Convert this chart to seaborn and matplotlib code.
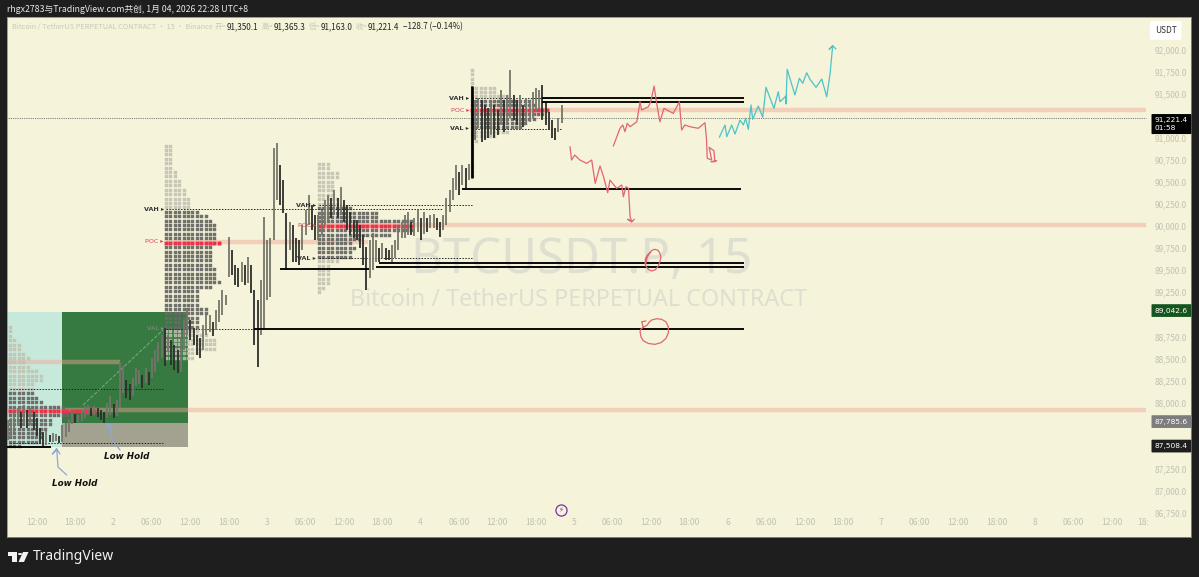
import matplotlib
matplotlib.use("Agg")
import matplotlib.pyplot as plt
from matplotlib.patches import Polygon, Circle
import seaborn as sns

# candles, 30 min apart, from 07:30 on the 1st
candle_start = 7.55
candle_step = 0.5
highs = [87804, 87826, 87894, 87939, 87894, 87973, 87917, 87939, 87894, 87826, 87713, 87668, 87690, 87634, 87656, 87645, 87622, 87747, 87770, 87815, 87894, 87871, 87860, 87917, 87962, 87973, 87939, 87962, 87939, 87917, 87894, 87996, 88075, 87985, 88030, 88460, 88415, 88256, 88211, 88279, 88392, 88370, 88313, 88392, 88347, 88505, 88596, 88687, 88766, 88845, 88766, 88709, 88653, 88596, 88732, 88936, 89071, 88936, 88845, 88766, 88732, 88879, 89026, 88992, 88913, 89049, 89162, 89275, 89219, 89875, 89728, 89558, 89524, 89592, 89558, 89649, 89558, 89275, 89162, 89388, 90102, 89841, 89864, 90883, 90939, 90690, 90520, 90147, 90045, 90011, 89864, 89841, 90011, 90181, 90351, 90237, 90124, 90124, 90181, 90294, 90351, 90317, 90407, 90317, 90441, 90294, 90237, 90158, 90068, 90068, 90011, 89898, 89762, 89841, 89920, 89841, 89751, 89807, 89751, 89728, 89785, 89841, 90011, 90045, 90124, 90158, 90045, 90090, 90181, 90090, 90158, 90090, 90124, 90136, 90090, 90045, 90124, 90317, 90407, 90543, 90690, 90611, 90690, 90656, 90702, 91584, 91426, 91449, 91426, 91369, 91335, 91426, 91369, 91313, 91539, 91426, 91483, 91766, 91483, 91426, 91483, 91369, 91449, 91426, 91517, 91562, 91539, 91596, 91403, 91290, 91200, 91109, 91222, 91369]
lows = [87577, 87611, 87668, 87736, 87713, 87758, 87713, 87747, 87690, 87622, 87532, 87498, 87521, 87555, 87555, 87566, 87543, 87555, 87611, 87668, 87758, 87770, 87781, 87792, 87826, 87860, 87849, 87860, 87838, 87804, 87770, 87826, 87860, 87826, 87849, 87939, 88109, 88053, 88030, 88075, 88188, 88211, 88166, 88222, 88200, 88279, 88347, 88460, 88505, 88415, 88573, 88426, 88370, 88336, 88347, 88596, 88766, 88709, 88653, 88539, 88505, 88596, 88766, 88800, 88755, 88822, 88913, 88992, 89105, 89422, 89445, 89332, 89309, 89366, 89332, 89354, 89241, 88653, 88403, 88766, 88822, 89162, 89196, 89841, 90294, 90237, 90147, 89502, 89728, 89592, 89592, 89558, 89728, 89898, 90011, 89954, 89841, 89841, 89898, 90011, 90068, 90090, 90124, 90090, 90124, 90045, 89954, 89898, 89864, 89841, 89751, 89558, 89275, 89411, 89502, 89592, 89592, 89637, 89615, 89615, 89592, 89637, 89728, 89864, 89864, 89898, 89898, 89886, 89932, 89841, 89909, 89932, 89977, 89977, 89954, 89875, 89954, 90011, 90158, 90294, 90407, 90351, 90464, 90430, 90520, 90543, 90973, 91109, 90951, 90973, 90996, 91030, 90996, 91030, 91143, 91064, 91143, 91222, 91200, 91143, 91109, 91120, 91143, 91177, 91222, 91290, 91313, 91200, 91143, 91086, 90996, 90973, 91064, 91166]

# session profiles: start hour, top row price, cells per row, VA rows, POC row
profile_step_price = 50
profile_step_hours = 0.6875
profiles = [
    (7.86, 88856, [1, 1, 1, 2, 3, 3, 4, 5, 4, 5, 7, 8, 8, 6, 6, 6, 7, 8, 13, 20, 14, 10, 10, 9, 8, 8, 7, 3], 15, 27, 19),
    (32.23, 90911, [2, 2, 2, 2, 2, 2, 3, 3, 4, 4, 5, 5, 6, 6, 6, 8, 10, 11, 12, 12, 12, 12, 13, 11, 11, 11, 11, 11, 12, 12, 12, 13, 11, 8, 8, 8, 8, 10, 10, 8, 8, 8, 8, 10, 12, 12, 12, 8, 7], 15, 41, 22),
    (56.14, 90702, [3, 3, 5, 5, 4, 4, 4, 4, 5, 5, 8, 14, 14, 22, 22, 22, 17, 10, 8, 9, 8, 8, 5, 3, 3, 3, 3, 3, 2, 1], 10, 21, 14),
    (80.05, 91766, [1, 1, 1, 1, 6, 6, 9, 14, 15, 18, 17, 15, 13, 12, 9, 6, 2, 1, 1, 1, 1, 1, 1, 1, 1], 7, 13, 9),
]

# value levels of the profiles (price, from hour, to hour)
dotted_levels = [(88150, 7.9, 31.8), (87545, 7.9, 31.8), (90190, 32.2, 75.4), (88834, 32.2, 46.6),
                 (90237, 56.1, 80), (89637, 56.1, 80), (91445, 80, 94), (91100, 80, 94)]
level_tags = [("VAH", 90190, 31.9, "#333333"), ("POC", 89819, 31.9, "#e0405a"), ("VAL", 88834, 31.9, "#8c8c80"),
              ("VAH", 90237, 55.7, "#333333"), ("POC", 90011, 55.7, "#e0405a"), ("VAL", 89637, 55.7, "#333333"),
              ("VAH", 91445, 79.6, "#333333"), ("POC", 91313, 79.6, "#e0405a"), ("VAL", 91100, 79.6, "#333333")]

# hand drawn levels
pink_levels = [(91313, 90, 185.36), (90011, 56, 185.36), (89819, 32.2, 63.8), (88460, 7.4, 25), (87917, 7.4, 185.36)]
black_levels = [(91445, 91, 122.6), (91400, 91, 122.6), (90415, 78.5, 122), (89581, 65.5, 122.6),
                (89541, 65, 122.6), (89518, 50, 64), (88834, 46, 122.6), (87498, 7.4, 14.3)]

red_x = [95.36, 95.6, 96.1, 96.9, 97.95, 98.75, 99.3, 100.05, 100.6, 101.25, 101.6, 102.65, 103.45, 103.7, 104.1, 104.5, 104.75, 105.0, 104.4, 105.0, 105.4]
red_y = [90898, 90747, 90803, 90747, 90709, 90747, 90483, 90679, 90558, 90377, 90520, 90426, 90464, 90331, 90445, 90426, 90105, 90048, 90076, 90048, 90076]
red2_x = [102.13, 103.17, 103.6, 103.95, 104.3, 104.75, 105.8, 106.3, 106.55, 107.6, 107.97, 108.5, 108.9, 109.4, 110.05, 111.0, 111.5, 112.45, 112.8, 113.3, 114.1, 115.4, 116.45, 116.7, 116.8, 117.5, 117.1, 117.85, 118.0, 117.4, 118.3]
red2_y = [90905, 91106, 91143, 91067, 91162, 91124, 91180, 91407, 91313, 91350, 91407, 91584, 91389, 91180, 91332, 91294, 91275, 91407, 91086, 91143, 91124, 91106, 91169, 90973, 90766, 90747, 90890, 90852, 90728, 90728, 90739]
teal_x = [118.69, 119.58, 119.85, 120.62, 121.14, 121.92, 122.44, 122.81, 123.22, 123.64, 123.9, 124.78, 125.47, 125.98, 127.23, 127.9, 128.17, 129.1, 129.1, 129.3, 130.5, 131.2, 131.72, 132.34, 132.86, 133.8, 134.7, 135.47, 136.0, 136.4, 135.87, 136.4, 136.9]
teal_y = [91004, 91143, 91011, 91143, 91041, 91200, 91143, 91219, 91094, 91369, 91208, 91358, 91230, 91570, 91332, 91520, 91407, 91471, 91381, 91774, 91483, 91672, 91615, 91735, 91660, 91570, 91664, 91463, 91728, 92041, 92000, 92041, 92004]
small_circle_x = [107.23, 107.4, 107.75, 108.15, 108.64, 109.1, 109.42, 109.55, 109.42, 109.1, 108.64, 108.1, 107.6, 107.25, 107.08, 107.15, 107.44, 107.97]
small_circle_y = [89577, 89640, 89691, 89725, 89736, 89725, 89691, 89645, 89596, 89540, 89502, 89490, 89509, 89540, 89577, 89630, 89671, 89702]
big_circle_x = [106.81, 106.4, 106.3, 106.45, 106.81, 107.6, 108.64, 109.6, 110.36, 110.75, 110.72, 110.35, 109.69, 108.9, 108.13, 107.7, 107.44, 106.81, 106.56, 107.23]
big_circle_y = [88853, 88830, 88803, 88745, 88701, 88670, 88660, 88680, 88728, 88795, 88860, 88915, 88943, 88950, 88936, 88910, 88879, 88853, 88916, 88924]
hold1_x = [16.72, 15.36, 15.16, 14.5, 15.16, 15.67]
hold1_y = [87181, 87271, 87475, 87419, 87475, 87419]
hold2_x = [25.05, 23.8, 23.38, 22.86, 23.38, 23.95]
hold2_y = [87464, 87577, 87758, 87713, 87758, 87713]

x_ticks = list(range(12, 186, 6)) + [185]
x_labels = ["12:00", "18:00", "2", "06:00", "12:00", "18:00", "3", "06:00", "12:00", "18:00", "4", "06:00",
            "12:00", "18:00", "5", "06:00", "12:00", "18:00", "6", "06:00", "12:00", "18:00", "7", "06:00",
            "12:00", "18:00", "8", "06:00", "12:00", "18:"]
y_ticks = [92000, 91750, 91500, 91000, 90750, 90500, 90250, 90000, 89750, 89500, 89250, 88750, 88500, 88250,
           88000, 87250, 87000, 86750]

last_price = 91221.4
price_tags = [(91154, "91,221.4\n01:58", "#000000"), (89042.6, "89,042.6", "#15561f"),
              (87785.6, "87,785.6", "#7d7d7d"), (87508.4, "87,508.4", "#1e1e1e")]
legend_parts = [(12, "Bitcoin / TetherUS PERPETUAL CONTRACT · 15 · Binance", "#c9c9ba", 5.3), (215, "开=", "#c9c9ba", 5.3),
                (227, "91,350.1", "#222222", 5.8), (262, "高=", "#c9c9ba", 5.3), (274, "91,365.3", "#222222", 5.8),
                (309, "低=", "#c9c9ba", 5.3), (321, "91,163.0", "#222222", 5.8), (356, "收=", "#c9c9ba", 5.3),
                (368, "91,221.4", "#222222", 5.8), (403, "−128.7 (−0.14%)", "#222222", 5.8)]

BG = "#f5f3d9"
DARK = "#1e1e1e"
W, H = 1199, 577

sns.set_theme(style="white")
plt.rcParams["font.family"] = ["Noto Sans CJK SC", "DejaVu Sans"]
plt.rcParams["axes.unicode_minus"] = False

fig = plt.figure(figsize=(W / 100, H / 100), dpi=100, facecolor=DARK)
ax = fig.add_axes([7 / W, 40 / H, 1184 / W, 520 / H], facecolor=BG)
ax.set_xlim(7.39, 192.39)
ax.set_ylim(86479, 92366)

# watermark
ax.text(97.1, 89610, "BTCUSDT.P, 15", fontsize=35.4, color="#dedfd0", ha="center", va="center", zorder=0.5,
        family="Noto Sans")
ax.text(96.7, 89160, "Bitcoin / TetherUS PERPETUAL CONTRACT", fontsize=16.8, color="#dedfd0", ha="center",
        va="center", zorder=0.5, family="Noto Sans")

# long position box
ax.fill_between([7.4, 16], 87498, 89026, color="#c7e9dc", lw=0, zorder=1)
ax.fill_between([16, 35.67], 87770, 89026, color="#367a42", lw=0, zorder=1)
ax.fill_between([16, 35.67], 87498, 87770, color="#a3a190", lw=0, zorder=1)
ax.plot([19.27, 31.77], [87973, 88822], color="#7fa885", lw=0.7, ls="--", zorder=1.2)

for price, x0, x1 in pink_levels:
    ax.hlines(price, x0, x1, color="#f0a590", alpha=0.45, lw=3.2, zorder=1.5)

for start, top, counts, va_first, va_last, poc in profiles:
    groups = {"out": ([], []), "va": ([], []), "poc": ([], [])}
    for row, count in enumerate(counts):
        key = "poc" if row == poc else ("va" if va_first <= row <= va_last else "out")
        for cell in range(count):
            groups[key][0].append(start + cell * profile_step_hours)
            groups[key][1].append(top - row * profile_step_price)
    # snapping makes the small squares jump between dots and solid blocks
    for key, colour, alpha, size in [("out", "#c0c0b0", 0.85, 6.0), ("va", "#696966", 0.95, 6.0), ("poc", "#f02f48", 1.0, 8.0)]:
        sns.scatterplot(x=groups[key][0], y=groups[key][1], marker="s", s=size, color=colour, alpha=alpha,
                        linewidth=0, ax=ax, zorder=2)
        ax.collections[-1].set_snap(False)

for price, x0, x1 in dotted_levels:
    ax.hlines(price, x0, x1, color="#222222", lw=0.7, ls=(0, (1.5, 1.5)), zorder=2.3)
ax.hlines(last_price, 7.4, 185.36, color="#555555", lw=0.6, ls=(0, (1, 1.2)), zorder=2.3)

# candles
for i, (hi, lo) in enumerate(zip(highs, lows)):
    rising = i == 0 or (hi + lo) >= (highs[i - 1] + lows[i - 1])
    ax.vlines(candle_start + i * candle_step, lo, hi, color="#75756a" if rising else "#2e2e2a", lw=1.3, zorder=3)
ax.vlines(80.05, 90543, 91584, color="#000000", lw=1.9, zorder=3.1)

for price, x0, x1 in black_levels:
    ax.hlines(price, x0, x1, color="#000000", lw=1.35, zorder=3.2)

for text, price, hour, colour in level_tags:
    ax.text(hour, price, text + " ▸", fontsize=4.6, fontweight="bold" if colour == "#333333" else "normal",
            color=colour, ha="right", va="center", zorder=3.5, family=["DejaVu Sans"])

# hand drawn paths
for xs, ys, colour in [(red_x, red_y, "#e2666f"), (red2_x, red2_y, "#e2666f"), (teal_x, teal_y, "#4cc3c8"),
                       (small_circle_x, small_circle_y, "#e2666f"), (big_circle_x, big_circle_y, "#e2666f"),
                       (hold1_x, hold1_y, "#8da8d8"), (hold2_x, hold2_y, "#8da8d8")]:
    sns.lineplot(x=xs, y=ys, sort=False, estimator=None, color=colour, lw=0.9, ax=ax, legend=False, zorder=4)

for hour, price in [(18.0, 87090), (26.14, 87385)]:
    ax.text(hour, price, "Low Hold", fontsize=6.3, fontweight="bold", style="italic", color="#111111",
            ha="center", va="center", family="DejaVu Sans", zorder=4)

# event marker
ax.plot([93.95], [86785], marker="o", ms=8, mfc=BG, mec="#7b2fa8", mew=0.9, zorder=4)
ax.text(93.95, 86785, "⚡", fontsize=5, color="#7b2fa8", ha="center", va="center", family="DejaVu Sans", zorder=4.1)

# axes
ax.yaxis.tick_right()
ax.set_yticks(y_ticks, [f"{v:,.1f}" for v in y_ticks])
ax.set_xticks(x_ticks, x_labels)
ax.tick_params(axis="y", length=0, pad=-26.5, labelsize=6, labelcolor="#c2c2b2")
ax.tick_params(axis="x", length=0, pad=-13.5, labelsize=6.2, labelcolor="#c2c2b2")
for side in ax.spines.values():
    side.set_color("#8e8e7f")
    side.set_linewidth(0.6)

tag_tr = ax.get_yaxis_transform()
for price, text, colour in price_tags:
    ax.text(0.9695, price, text, transform=tag_tr, fontsize=5.4, color="white", ha="left", va="center",
            linespacing=1.25, zorder=6, family="DejaVu Sans",
            bbox=dict(boxstyle="round,pad=0.45,rounding_size=0.1", fc=colour, ec="none"))
ax.text(0.9695, 92215, "USDT", transform=tag_tr, fontsize=6, color="#333333", ha="left", va="center",
        zorder=6, bbox=dict(boxstyle="round,pad=0.6,rounding_size=0.2", fc="white", ec="none"))

# legend strip, header and footer sit in page pixels
for x, text, colour, size in legend_parts:
    fig.text(x / W, 1 - 27 / H, text, fontsize=size, color=colour, ha="left", va="center")
fig.text(7 / W, 1 - 9.5 / H, "rhgx2783与TradingView.com共创, 1月 04, 2026 22:28 UTC+8", fontsize=6.3,
         color="#e8e8e8", ha="left", va="center")
fig.text(32.5 / W, 1 - 557 / H, "TradingView", fontsize=10, color="#f2f2f2", ha="left", va="center",
         family="Noto Sans", fontweight="medium")


def page(px, py):
    return (px / W, 1 - py / H)


logo = [[(8, 552), (17, 552), (17, 562), (12.5, 562), (12.5, 556), (8, 556)],
        [(23, 552), (28.5, 552), (24, 562), (18.5, 562)]]
for pts in logo:
    fig.add_artist(Polygon([page(*p) for p in pts], closed=True, transform=fig.transFigure, fc="#f2f2f2", ec="none"))
fig.add_artist(Circle(page(20, 554), 2.1 / W, transform=fig.transFigure, fc="#f2f2f2", ec="none"))

fig.savefig("out.png", dpi=100, facecolor=fig.get_facecolor())
